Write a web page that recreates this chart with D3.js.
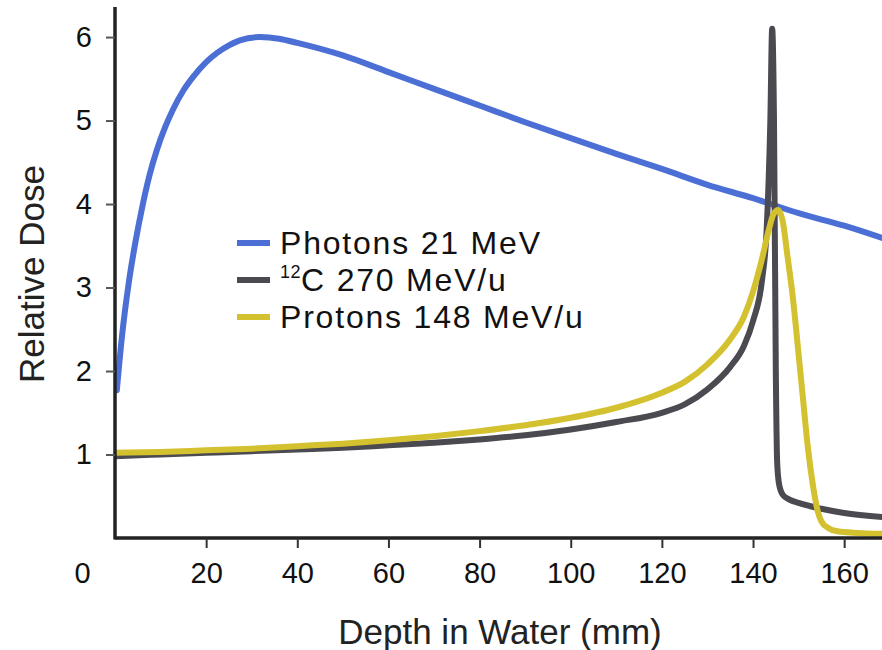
<!DOCTYPE html>
<html>
<head>
<meta charset="utf-8">
<script src="https://cdn.jsdelivr.net/npm/d3@7"></script>
<style>
  html, body { margin: 0; padding: 0; background: #fff; }
  svg { display: block; font-family: "Liberation Sans", Arial, sans-serif; }
</style>
</head>
<body>
<svg id="chart" width="882" height="650"></svg>
<script>
// ---- data ----
const xTicks = [0, 20, 40, 60, 80, 100, 120, 140, 160];
const yTicks = [1, 2, 3, 4, 5, 6];

const photonDepth = [0.4, 1.5, 3, 4.5, 6, 7.5, 9.2, 11, 12.7, 15, 17.1, 20, 22.4, 25, 27.4, 31.8, 36, 40, 50, 60, 70, 80, 90, 100, 110, 120, 130, 140, 150, 160, 168.5];
const photonDose  = [1.77, 2.40, 3.05, 3.55, 3.97, 4.33, 4.65, 4.92, 5.13, 5.36, 5.52, 5.70, 5.81, 5.90, 5.96, 6.0, 5.98, 5.93, 5.78, 5.58, 5.38, 5.18, 4.98, 4.79, 4.60, 4.42, 4.23, 4.07, 3.89, 3.74, 3.59];

const carbonDepth = [0, 10, 20, 30, 40, 50, 60, 70, 80, 90, 100, 110, 120, 125, 130, 135, 138, 140, 142, 143, 143.8, 144.2, 144.6, 145, 145.3, 145.7, 146.5, 148, 150, 155, 160, 168.5];
const carbonDose  = [0.98, 1.0, 1.02, 1.04, 1.06, 1.08, 1.11, 1.14, 1.18, 1.23, 1.30, 1.39, 1.50, 1.60, 1.78, 2.05, 2.30, 2.60, 3.10, 3.70, 5.00, 6.10, 5.00, 2.00, 0.90, 0.65, 0.52, 0.46, 0.42, 0.35, 0.30, 0.25];

const protonDepth = [0, 10, 20, 30, 40, 50, 60, 70, 80, 90, 100, 110, 120, 125, 130, 135, 138, 140, 142, 143.5, 144.5, 145.5, 146.5, 147.5, 148.8, 150, 151, 152, 153.2, 154.2, 155, 156.5, 158.5, 163, 168.5];
const protonDose  = [1.02, 1.03, 1.05, 1.07, 1.10, 1.13, 1.17, 1.22, 1.28, 1.35, 1.44, 1.56, 1.74, 1.87, 2.08, 2.38, 2.65, 2.95, 3.35, 3.70, 3.88, 3.93, 3.80, 3.40, 2.85, 2.20, 1.65, 1.10, 0.61, 0.32, 0.20, 0.12, 0.08, 0.06, 0.05];

const seriesNames = ["Photons 21 MeV", "C 270 MeV/u", "Protons 148 MeV/u"];
const seriesColors = ["#4c6fd6", "#4a4a50", "#d4c12f"];

// ---- layout ----
const svg = d3.select("#chart");
const x = d3.scaleLinear().domain([0, 168.3]).range([115, 882]);
const y = d3.scaleLinear().domain([0, 6.36]).range([538, 7]);

const series = [
  photonDepth.map((d, i) => [d, photonDose[i]]),
  carbonDepth.map((d, i) => [d, carbonDose[i]]),
  protonDepth.map((d, i) => [d, protonDose[i]])
];
const line = d3.line().x(d => x(d[0])).y(d => y(d[1])).curve(d3.curveMonotoneX);

svg.append("defs").append("clipPath").attr("id", "clip")
  .append("rect").attr("x", 115).attr("y", 0).attr("width", 767).attr("height", 560);

const plot = svg.append("g").attr("clip-path", "url(#clip)");
[0, 1, 2].forEach(i => {
  plot.append("path")
    .attr("d", line(series[i]))
    .attr("fill", "none")
    .attr("stroke", seriesColors[i])
    .attr("stroke-width", 6)
    .attr("stroke-linejoin", "round")
    .attr("stroke-linecap", "round");
});

// axes
const xAxis = svg.append("g").attr("transform", "translate(0,538)")
  .call(d3.axisBottom(x).tickValues(xTicks).tickSize(10).tickPadding(14).tickFormat(d3.format("d")));
xAxis.select(".domain").attr("stroke", "#222").attr("stroke-width", 3.5).attr("d", "M115,0H882");
xAxis.selectAll(".tick line").attr("stroke", "#333").attr("stroke-width", 2);
xAxis.selectAll(".tick text").attr("font-size", 29).attr("fill", "#111")
  .attr("font-family", "Liberation Sans, Arial, sans-serif");
xAxis.selectAll(".tick").filter(d => d === 0).select("line").remove();
xAxis.selectAll(".tick").filter(d => d === 0).select("text").attr("dx", -33);

const yAxis = svg.append("g").attr("transform", "translate(115,0)")
  .call(d3.axisLeft(y).tickValues(yTicks).tickSize(9).tickPadding(14).tickFormat(d3.format("d")));
yAxis.select(".domain").attr("stroke", "#222").attr("stroke-width", 3.5).attr("d", "M0,7V539.5");
yAxis.selectAll(".tick line").attr("stroke", "#555").attr("stroke-width", 2);
yAxis.selectAll(".tick text").attr("font-size", 29).attr("fill", "#111")
  .attr("font-family", "Liberation Sans, Arial, sans-serif");

// axis titles
svg.append("text")
  .attr("x", 500).attr("y", 644)
  .attr("text-anchor", "middle")
  .attr("font-size", 35).attr("fill", "#222")
  .text("Depth in Water (mm)");

svg.append("text")
  .attr("transform", "translate(44,274) rotate(-90)")
  .attr("text-anchor", "middle")
  .attr("font-size", 35).attr("fill", "#222")
  .text("Relative Dose");

// legend
const legend = svg.append("g");
const rowY = [243, 280, 317];
seriesNames.forEach((name, i) => {
  legend.append("line")
    .attr("x1", 237).attr("x2", 270)
    .attr("y1", rowY[i]).attr("y2", rowY[i])
    .attr("stroke", seriesColors[i]).attr("stroke-width", 6);
  const t = legend.append("text")
    .attr("x", 280).attr("y", rowY[i] + 11)
    .attr("font-size", 32).attr("fill", "#111")
    .attr("letter-spacing", 1.8);
  if (i === 1) {
    t.append("tspan").attr("font-size", 18).attr("dy", -13).attr("letter-spacing", 0.5).text("12");
    t.append("tspan").attr("dy", 13).text(name);
  } else {
    t.text(name);
  }
});
</script>
</body>
</html>
